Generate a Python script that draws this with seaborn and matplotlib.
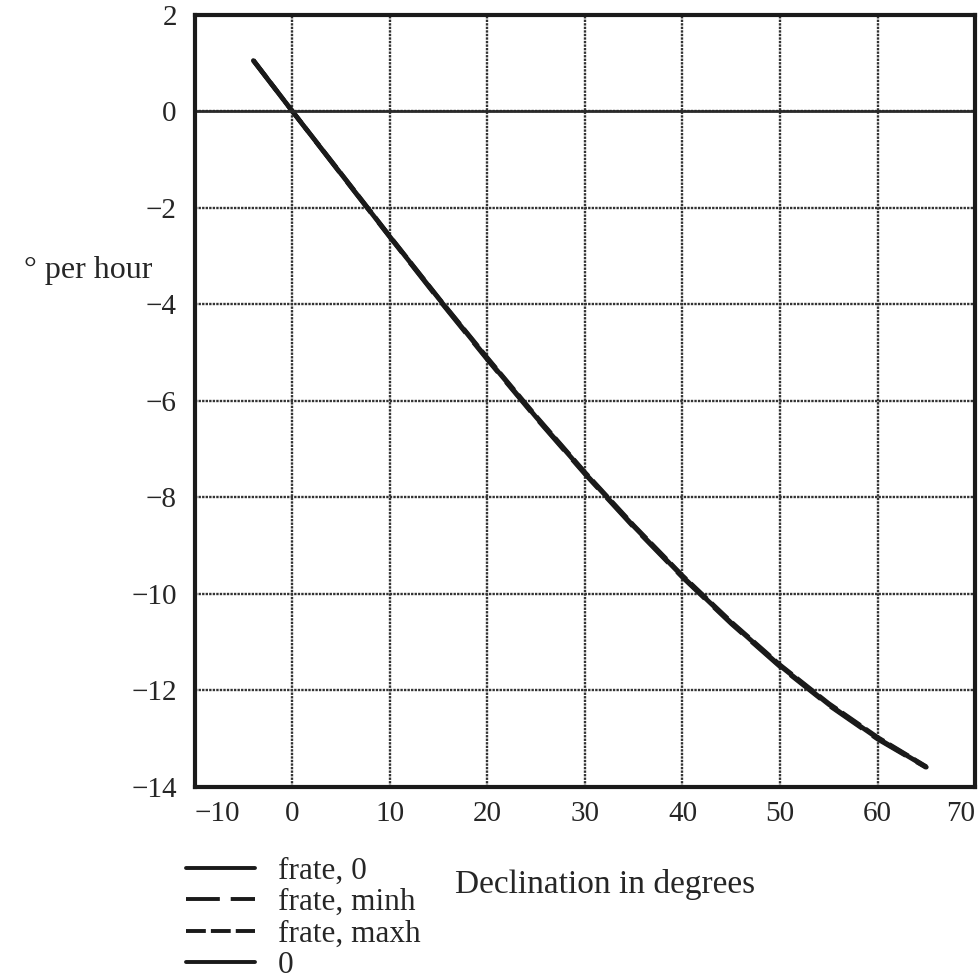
import matplotlib
matplotlib.use("Agg")
import matplotlib.pyplot as plt
import seaborn as sns
import pandas as pd
from matplotlib.lines import Line2D

# Data
declination = [-4, 0, 5, 10, 15, 20, 25, 30, 35, 40, 45, 50, 55, 60, 65]
frate_0 = [1.05, 0.0, -1.3, -2.6, -3.88, -5.13, -6.34, -7.5, -8.6, -9.64, -10.6, -11.49, -12.29, -12.99, -13.59]
frate_minh = [1.05, 0.0, -1.31, -2.61, -3.9, -5.15, -6.36, -7.52, -8.62, -9.66, -10.62, -11.51, -12.31, -13.01, -13.6]
frate_maxh = [1.06, 0.0, -1.29, -2.59, -3.87, -5.11, -6.32, -7.48, -8.58, -9.62, -10.58, -11.47, -12.27, -12.97, -13.58]
zero_x = [-10, 70]
zero_y = [0, 0]
x_ticks = [-10, 0, 10, 20, 30, 40, 50, 60, 70]
y_ticks = [2, 0, -2, -4, -6, -8, -10, -12, -14]

sns.set_theme(style="white")
plt.rcParams['font.family'] = ['Liberation Serif', 'DejaVu Serif']
plt.rcParams['axes.unicode_minus'] = True

fig = plt.figure(figsize=(9.79, 9.80), dpi=100)
ax = fig.add_axes([0.199, 0.197, 0.797, 0.788])

df = pd.DataFrame({"x": declination, "a": frate_0, "b": frate_minh, "c": frate_maxh})
sns.lineplot(data=df, x="x", y="a", ax=ax, color="#1a1a1a", lw=3.4, linestyle="-")
sns.lineplot(data=df, x="x", y="b", ax=ax, color="#1a1a1a", lw=3.2, linestyle=(0, (8.7, 2.8)))
sns.lineplot(data=df, x="x", y="c", ax=ax, color="#1a1a1a", lw=3.2, linestyle=(0, (5, 1.4)))
sns.lineplot(x=zero_x, y=zero_y, ax=ax, color="#2a2a2a", lw=2.0)

ax.set_xlim(-10, 70)
ax.set_ylim(-14, 2)
ax.set_xticks(x_ticks)
ax.set_yticks(y_ticks)
ax.set_xticklabels([("\u2212" + str(-t)) if t < 0 else str(t) for t in x_ticks], fontsize=21)
ax.set_yticklabels([("\u2212" + str(-t)) if t < 0 else str(t) for t in y_ticks], fontsize=21)
xl = ax.get_xticklabels()
xl[0].set_ha("left")
xl[-1].set_ha("right")
ax.tick_params(axis="x", length=0, pad=10)
ax.tick_params(axis="y", length=0, pad=13)
ax.grid(True, color="#333333", lw=1.7, linestyle=(0, (1, 0.5)))
for s in ax.spines.values():
    s.set_color("#1a1a1a")
    s.set_linewidth(3.0)
ax.set_xlabel("")
ax.set_ylabel("")

fig.text(0.025, 0.724, "\u00b0 per hour", fontsize=23, ha="left", va="center")
fig.text(0.465, 0.097, "Declination in degrees", fontsize=24, ha="left", va="center")

handles = [
    Line2D([], [], color="#1a1a1a", lw=2.8, linestyle="-"),
    Line2D([], [], color="#1a1a1a", lw=2.8, linestyle=(0, (8.7, 2.8))),
    Line2D([], [], color="#1a1a1a", lw=2.8, linestyle=(0, (5.1, 1.3))),
    Line2D([], [], color="#1a1a1a", lw=2.8, linestyle="-"),
]
labels = ["frate, 0", "frate, minh", "frate, maxh", "0"]
fig.legend(handles, labels, loc="upper left", bbox_to_anchor=(0.19, 0.126),
           frameon=False, fontsize=22.5, handlelength=2.2, handletextpad=0.75,
           labelspacing=0.08, borderpad=0, borderaxespad=0)

fig.savefig("out.png", dpi=100, facecolor="white")
